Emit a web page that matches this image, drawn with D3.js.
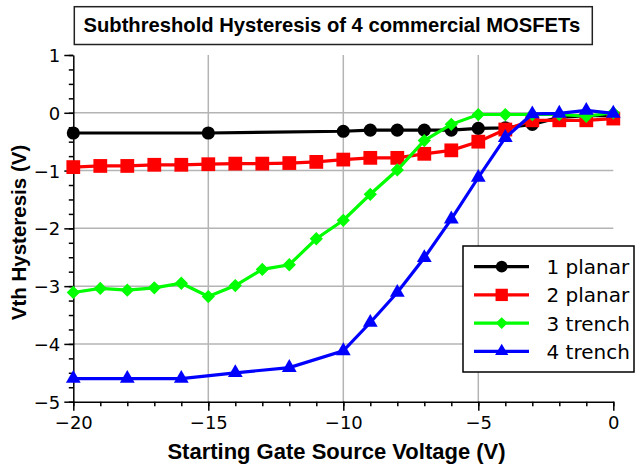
<!DOCTYPE html>
<meta charset="utf-8">
<style>
body { margin: 0; background: #fff; }
.grid line { stroke: #b4b4b4; stroke-width: 1.5; }
.axis path, .axis line { stroke: #000; stroke-width: 1.5; }
.axis text { font-family: "DejaVu Sans", sans-serif; font-size: 18px; fill: #000; }
.label { font-family: "Liberation Sans", Arial, sans-serif; font-weight: bold; font-size: 19px; }
.legend text { font-family: "DejaVu Sans", sans-serif; font-size: 20px; }
</style>
<body>
<script src="https://d3js.org/d3.v7.min.js"></script>
<script>

// data (voltages in V)
var xAll = d3.range(-20, 1);            // -20 .. 0 step 1
var x1 = [-20, -15, -10, -9, -8, -7, -6, -5, -4, -3, -2, -1, 0];
var y1 = [-0.35, -0.35, -0.32, -0.30, -0.30, -0.30, -0.30, -0.27, -0.26, -0.20, -0.08, -0.05, -0.05];
var y2 = [-0.94, -0.92, -0.92, -0.90, -0.90, -0.89, -0.88, -0.88, -0.87, -0.85, -0.81,
          -0.78, -0.78, -0.71, -0.65, -0.50, -0.29, -0.13, -0.13, -0.13, -0.10];
var y3 = [-3.11, -3.04, -3.07, -3.03, -2.95, -3.18, -2.99, -2.71, -2.63, -2.18, -1.86,
          -1.41, -0.99, -0.48, -0.20, -0.03, -0.03, -0.03, -0.03, -0.06, 0.00];
var x4 = [-20, -18, -16, -14, -12, -10, -9, -8, -7, -6, -5, -4, -3, -2, -1, 0];
var y4 = [-4.60, -4.60, -4.60, -4.50, -4.41, -4.12, -3.63, -3.11, -2.51, -1.84, -1.12, -0.43, -0.02, -0.01, 0.04, -0.01];

var seriesNames = ["1 planar", "2 planar", "3 trench", "4 trench"];
var xTicks = [-20, -15, -10, -5, 0];
var yTicks = [1, 0, -1, -2, -3, -4, -5];

var margin = {top: 55, left: 73.3},
    width = 540,
    height = 346.7;

var svg = d3.select("body").append("svg")
    .attr("width", 641)
    .attr("height", 468);

var g = svg.append("g")
    .attr("transform", "translate(" + margin.left + "," + margin.top + ")");

var x = d3.scaleLinear().domain([-20, 0]).range([0, width]);
var y = d3.scaleLinear().domain([-5, 1]).range([height, 0]);

// grid lines
var grid = g.append("g").attr("class", "grid");
grid.selectAll(".vg").data([-15, -10, -5]).enter().append("line")
    .attr("x1", function(d) { return x(d); }).attr("x2", function(d) { return x(d); })
    .attr("y1", 0).attr("y2", height);
grid.selectAll(".hg").data([0, -1, -2, -3, -4]).enter().append("line")
    .attr("x1", 0).attr("x2", width)
    .attr("y1", function(d) { return y(d); }).attr("y2", function(d) { return y(d); });

// minor ticks
g.append("g").attr("class", "axis")
    .attr("transform", "translate(0," + height + ")")
    .call(d3.axisBottom(x).tickValues(d3.range(-20, 1)).tickSize(4.5).tickFormat(""))
    .select(".domain").remove();
g.append("g").attr("class", "axis")
    .call(d3.axisLeft(y).tickValues(d3.range(-5, 1.01, 0.25)).tickSize(4.5).tickFormat(""))
    .select(".domain").remove();

// major ticks + axes
g.append("g").attr("class", "axis")
    .attr("transform", "translate(0," + height + ")")
    .call(d3.axisBottom(x).tickValues(xTicks).tickSizeInner(9).tickSizeOuter(0).tickPadding(6)
      .tickFormat(function(d) { return d < 0 ? "\u2212" + (-d) : d; }));
g.append("g").attr("class", "axis")
    .call(d3.axisLeft(y).tickValues(yTicks).tickSizeInner(9).tickSizeOuter(0).tickPadding(4)
      .tickFormat(function(d) { return d < 0 ? "\u2212" + (-d) : d; }))
    .selectAll("text").attr("dy", "0.36em");

// series
var series = [
  {name: seriesNames[0], color: "#000000", sym: d3.symbolCircle, size: 135, rot: 0,
   pts: x1.map(function(v, i) { return [v, y1[i]]; })},
  {name: seriesNames[1], color: "#ff0000", sym: d3.symbolSquare, size: 190, rot: 0,
   pts: xAll.map(function(v, i) { return [v, y2[i]]; })},
  {name: seriesNames[2], color: "#00ff00", sym: d3.symbolSquare, size: 88, rot: 45,
   pts: xAll.map(function(v, i) { return [v, y3[i]]; })},
  {name: seriesNames[3], color: "#0000ff", sym: d3.symbolTriangle, size: 95, rot: 0,
   pts: x4.map(function(v, i) { return [v, y4[i]]; })}
];

var line = d3.line()
    .x(function(d) { return x(d[0]); })
    .y(function(d) { return y(d[1]); });

series.forEach(function(s) {
  var sg = g.append("g");
  sg.append("path")
      .datum(s.pts)
      .attr("d", line)
      .attr("fill", "none")
      .attr("stroke", s.color)
      .attr("stroke-width", 3.2);
  sg.selectAll("path.mk").data(s.pts).enter().append("path")
      .attr("class", "mk")
      .attr("d", d3.symbol().type(s.sym).size(s.size))
      .attr("transform", function(d) {
        return "translate(" + x(d[0]) + "," + y(d[1]) + ") rotate(" + s.rot + ")";
      })
      .attr("fill", s.color);
});

// title box
svg.append("rect")
    .attr("x", 74.3).attr("y", 6.7)
    .attr("width", 518).attr("height", 37.8)
    .attr("fill", "#fff").attr("stroke", "#222").attr("stroke-width", 1.5);
svg.append("text")
    .attr("class", "label")
    .attr("x", 83.5).attr("y", 32)
    .style("font-size", "20.2px")
    .text("Subthreshold Hysteresis of 4 commercial MOSFETs");

// axis titles
svg.append("text")
    .attr("class", "label")
    .attr("x", 336.5).attr("y", 459)
    .attr("text-anchor", "middle")
    .style("font-size", "22px")
    .text("Starting Gate Source Voltage (V)");
svg.append("text")
    .attr("class", "label")
    .attr("transform", "translate(26,232.5) rotate(-90)")
    .attr("text-anchor", "middle")
    .style("font-size", "20.5px")
    .text("Vth Hysteresis (V)");

// legend
var legend = svg.append("g").attr("class", "legend");
legend.append("rect")
    .attr("x", 463).attr("y", 246)
    .attr("width", 171).attr("height", 126)
    .attr("fill", "#fff").attr("stroke", "#000").attr("stroke-width", 1.5);
series.forEach(function(s, i) {
  var ly = 266.7 + i * 28.2;
  legend.append("line")
      .attr("x1", 474).attr("x2", 529)
      .attr("y1", ly).attr("y2", ly)
      .attr("stroke", s.color).attr("stroke-width", 3.2);
  legend.append("path")
      .attr("d", d3.symbol().type(s.sym).size(s.size * 0.8))
      .attr("transform", "translate(501.7," + ly + ") rotate(" + s.rot + ")")
      .attr("fill", s.color);
  legend.append("text")
      .attr("x", 546.5).attr("y", ly + 7.5)
      .text(s.name);
});

</script>
</body>
